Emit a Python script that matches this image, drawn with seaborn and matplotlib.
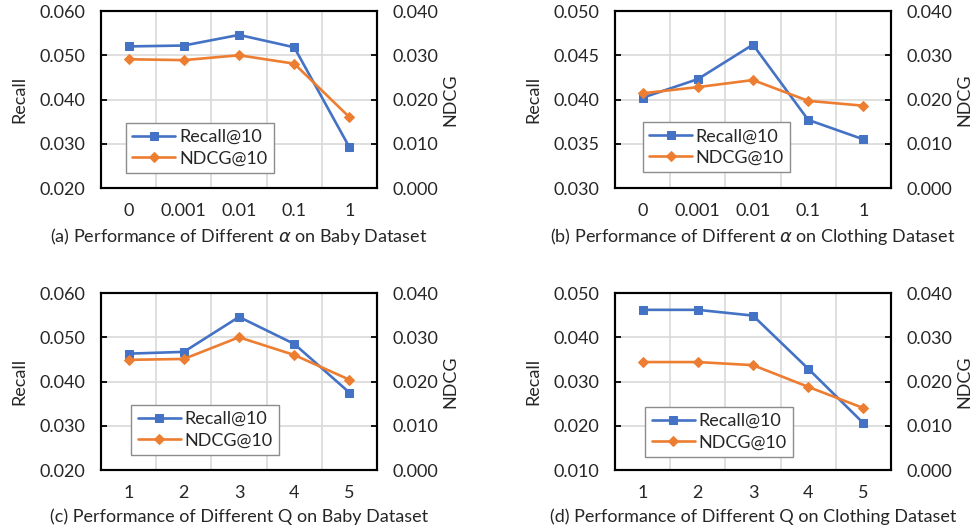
import numpy as np
import seaborn as sns
import matplotlib.pyplot as plt
from matplotlib.ticker import FixedLocator, MultipleLocator, FormatStrFormatter

alpha_labels = ["0", "0.001", "0.01", "0.1", "1"]
q_labels = ["1", "2", "3", "4", "5"]

# (a) alpha on Baby
recall_a = [0.0520, 0.0522, 0.0546, 0.0518, 0.0292]
ndcg_a = [0.0291, 0.0289, 0.0300, 0.0281, 0.0160]
# (b) alpha on Clothing
recall_b = [0.0402, 0.0423, 0.0462, 0.0377, 0.0355]
ndcg_b = [0.0214, 0.0228, 0.0244, 0.0197, 0.0186]
# (c) Q on Baby
recall_c = [0.0463, 0.0467, 0.0546, 0.0485, 0.0375]
ndcg_c = [0.0249, 0.0251, 0.0300, 0.0260, 0.0204]
# (d) Q on Clothing
recall_d = [0.0462, 0.0462, 0.0449, 0.0329, 0.0206]
ndcg_d = [0.0244, 0.0244, 0.0237, 0.0188, 0.0140]

captions = [
    r"(a) Performance of Different $\alpha$ on Baby Dataset",
    r"(b) Performance of Different $\alpha$ on Clothing Dataset",
    "(c) Performance of Different Q on Baby Dataset",
    "(d) Performance of Different Q on Clothing Dataset",
]

sns.set_style("white")
plt.rcParams["font.family"] = ["Lato", "DejaVu Sans"]
plt.rcParams["mathtext.fontset"] = "dejavusans"
FS = 13
BLUE = "#4472C4"
ORANGE = "#ED7D31"
GRID = "#d9d9d9"

fig = plt.figure(figsize=(9.73, 5.32), dpi=100)
W, H = 0.2837, 0.3327
positions = [(0.1038, 0.6466), (0.632, 0.6466), (0.1038, 0.1165), (0.632, 0.1165)]
panels = [
    (alpha_labels, recall_a, ndcg_a, (0.020, 0.060), 0.010, (0.09, 0.085)),
    (alpha_labels, recall_b, ndcg_b, (0.030, 0.050), 0.005, (0.10, 0.09)),
    (q_labels, recall_c, ndcg_c, (0.020, 0.060), 0.010, (0.11, 0.085)),
    (q_labels, recall_d, ndcg_d, (0.010, 0.050), 0.010, (0.11, 0.075)),
]

for (x0, y0), (cats, rec, ndcg, rlim, rstep, lpos), cap in zip(positions, panels, captions):
    ax = fig.add_axes([x0, y0, W, H])
    ax2 = ax.twinx()
    sns.lineplot(x=cats, y=rec, ax=ax, color=BLUE, marker="s", markersize=6,
                 markeredgecolor=BLUE, linewidth=1.9, sort=False, label="Recall@10", legend=False)
    sns.lineplot(x=cats, y=ndcg, ax=ax2, color=ORANGE, marker="D", markersize=5.5,
                 markeredgecolor=ORANGE, linewidth=1.9, sort=False, label="NDCG@10", legend=False)
    ax2.set_zorder(ax.get_zorder() + 1)
    ax2.patch.set_visible(False)
    ax.set_xlim(-0.5, 4.5)
    ax.set_ylim(*rlim)
    ax2.set_ylim(0.0, 0.040)
    ax.yaxis.set_major_locator(MultipleLocator(rstep))
    ax2.yaxis.set_major_locator(MultipleLocator(0.010))
    ax.yaxis.set_major_formatter(FormatStrFormatter("%.3f"))
    ax2.yaxis.set_major_formatter(FormatStrFormatter("%.3f"))
    ax.xaxis.set_minor_locator(FixedLocator([0.5, 1.5, 2.5, 3.5]))
    ax.grid(True, axis="y", which="major", color=GRID, linewidth=1.2)
    ax.grid(True, axis="x", which="minor", color=GRID, linewidth=1.2)
    ax.grid(False, axis="x", which="major")
    ax.set_axisbelow(True)
    ax.tick_params(axis="x", which="major", length=0, pad=11, labelsize=FS)
    ax.tick_params(axis="x", which="minor", direction="in", length=4, width=1.3, color="black")
    ax.tick_params(axis="y", direction="in", length=4, width=1.3, color="black", pad=11,
                   labelsize=FS, left=True)
    ax2.tick_params(axis="y", direction="in", length=4, width=1.3, color="black", pad=11,
                    labelsize=FS, right=True)
    for a in (ax, ax2):
        for s in a.spines.values():
            s.set_color("black")
            s.set_linewidth(1.5)
    ax.set_ylabel("Recall", fontsize=FS, labelpad=9)
    ax2.set_ylabel("NDCG", fontsize=FS, labelpad=3)
    ax.set_xlabel(cap, fontsize=FS, labelpad=5)
    h1, l1 = ax.get_legend_handles_labels()
    h2, l2 = ax2.get_legend_handles_labels()
    leg = ax2.legend(h1 + h2, l1 + l2, loc="lower left", bbox_to_anchor=lpos, fontsize=FS,
                     frameon=True, fancybox=False, framealpha=1, edgecolor="#8c8c8c",
                     handlelength=2.4, borderpad=0.35, labelspacing=0.3, handletextpad=0.2,
                     borderaxespad=0)
    leg.get_frame().set_linewidth(1.0)

fig.savefig("out.png", dpi=100)
